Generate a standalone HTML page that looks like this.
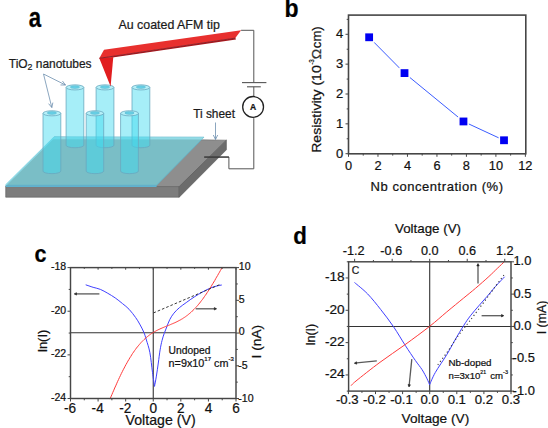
<!DOCTYPE html>
<html><head><meta charset="utf-8"><style>
html,body{margin:0;padding:0;background:#fff;}
svg{display:block;font-family:"Liberation Sans", sans-serif;}
text{stroke:#111;stroke-width:0.22px;}
</style></head><body>
<svg width="548" height="428" viewBox="0 0 548 428">
<rect width="548" height="428" fill="#fff"/>
<text x="28.8" y="26.8" font-size="22.2" font-weight="bold" fill="#000" stroke="#000" stroke-width="0.5" transform="translate(28.8,26.8) scale(1,1.26) translate(-28.8,-26.8)">a</text>
<text x="118.5" y="28.6" font-size="12.2" text-anchor="start" font-weight="normal" fill="#1e1e1e"  stroke="#1e1e1e" stroke-width="0.42" textLength="101.3" lengthAdjust="spacingAndGlyphs">Au coated AFM tip</text>
<text x="8.8" y="67.8" font-size="12.2" fill="#1e1e1e" stroke="#1e1e1e" stroke-width="0.42" textLength="82.8" lengthAdjust="spacingAndGlyphs">TiO<tspan font-size="9" dy="2.6">2</tspan><tspan dy="-2.6"> nanotubes</tspan></text>
<text x="193.2" y="117.7" font-size="12.4" text-anchor="start" font-weight="normal" fill="#1e1e1e"  stroke="#1e1e1e" stroke-width="0.42" textLength="41.8" lengthAdjust="spacingAndGlyphs">Ti sheet</text>
<polygon points="54.2,137.2 226.4,140.2 179.2,186.6 5.7,186.6" fill="#8e8e8e" stroke="#6a6a6a" stroke-width="0.6"/>
<polygon points="5.7,186.6 179.2,186.6 179.2,197.2 5.7,197.2" fill="#7d7d7d" stroke="#5e5e5e" stroke-width="0.6"/>
<polygon points="179.2,186.6 226.4,140.2 226.4,149.8 179.2,197.2" fill="#6c6c6c" stroke="#555" stroke-width="0.6"/>
<polygon points="54.2,136.9 203.9,137.2 156.6,185.2 5.7,185.2" fill="#7abec6" stroke="#5fb5cc" stroke-width="0.8"/>
<polygon points="54.4,136.9 203.9,137.2 201.6,139.5 52.2,139.2" fill="#92dbe6"/>
<polyline points="54.2,137.2 5.9,185" fill="none" stroke="#8fd9e6" stroke-width="1.4"/>
<polygon points="5.7,185.2 156.6,185.2 156.6,187 5.7,187" fill="#5fb3cf"/>
<path d="M66.1,87.4 L66.1,145.2 A8.850000000000001,2.55 0 0 0 83.8,145.2 L83.8,87.4 Z" fill="rgb(61,218,240)" fill-opacity="0.46" stroke="#6aa8bf" stroke-width="0.8"/>
<ellipse cx="74.94999999999999" cy="87.4" rx="8.850000000000001" ry="2.55" fill="#b6f0f8" stroke="#6aa8bf" stroke-width="0.8"/>
<ellipse cx="74.94999999999999" cy="87.10" rx="4.60" ry="1.43" fill="#66d0e6" stroke="#5ea9c0" stroke-width="0.4"/>
<path d="M96.1,87.4 L96.1,145.2 A8.900000000000006,2.55 0 0 0 113.9,145.2 L113.9,87.4 Z" fill="rgb(61,218,240)" fill-opacity="0.46" stroke="#6aa8bf" stroke-width="0.8"/>
<ellipse cx="105.0" cy="87.4" rx="8.900000000000006" ry="2.55" fill="#b6f0f8" stroke="#6aa8bf" stroke-width="0.8"/>
<ellipse cx="105.0" cy="87.10" rx="4.63" ry="1.43" fill="#66d0e6" stroke="#5ea9c0" stroke-width="0.4"/>
<path d="M132,87.4 L132,145.2 A8.900000000000006,2.55 0 0 0 149.8,145.2 L149.8,87.4 Z" fill="rgb(61,218,240)" fill-opacity="0.46" stroke="#6aa8bf" stroke-width="0.8"/>
<ellipse cx="140.9" cy="87.4" rx="8.900000000000006" ry="2.55" fill="#b6f0f8" stroke="#6aa8bf" stroke-width="0.8"/>
<ellipse cx="140.9" cy="87.10" rx="4.63" ry="1.43" fill="#66d0e6" stroke="#5ea9c0" stroke-width="0.4"/>
<path d="M43,113.3 L43,171.1 A8.899999999999999,2.55 0 0 0 60.8,171.1 L60.8,113.3 Z" fill="rgb(61,218,240)" fill-opacity="0.46" stroke="#6aa8bf" stroke-width="0.8"/>
<ellipse cx="51.9" cy="113.3" rx="8.899999999999999" ry="2.55" fill="#b6f0f8" stroke="#6aa8bf" stroke-width="0.8"/>
<ellipse cx="51.9" cy="113.00" rx="4.63" ry="1.43" fill="#66d0e6" stroke="#5ea9c0" stroke-width="0.4"/>
<path d="M86.2,113.3 L86.2,171.1 A8.75,2.55 0 0 0 103.7,171.1 L103.7,113.3 Z" fill="rgb(61,218,240)" fill-opacity="0.46" stroke="#6aa8bf" stroke-width="0.8"/>
<ellipse cx="94.95" cy="113.3" rx="8.75" ry="2.55" fill="#b6f0f8" stroke="#6aa8bf" stroke-width="0.8"/>
<ellipse cx="94.95" cy="113.00" rx="4.55" ry="1.43" fill="#66d0e6" stroke="#5ea9c0" stroke-width="0.4"/>
<path d="M120.6,113.3 L120.6,171.1 A8.900000000000006,2.55 0 0 0 138.4,171.1 L138.4,113.3 Z" fill="rgb(61,218,240)" fill-opacity="0.46" stroke="#6aa8bf" stroke-width="0.8"/>
<ellipse cx="129.5" cy="113.3" rx="8.900000000000006" ry="2.55" fill="#b6f0f8" stroke="#6aa8bf" stroke-width="0.8"/>
<ellipse cx="129.5" cy="113.00" rx="4.63" ry="1.43" fill="#66d0e6" stroke="#5ea9c0" stroke-width="0.4"/>
<polygon points="104,49.8 241.1,30.3 235.3,38.1 99.3,58.3" fill="#e8302e"/>
<polygon points="99.3,58.3 235.3,38.1 236,39.5 112.3,57.6" fill="#a8171c"/>
<polygon points="99.3,58.3 113.3,57 110.6,86.6" fill="#e11d1f"/>
<line x1="99.3" y1="58.3" x2="235.3" y2="38.1" stroke="#8a1c24" stroke-width="0.9"/>
<polyline points="241.1,30.3 253.8,30.3 253.8,82.6" fill="none" stroke="#555" stroke-width="1"/>
<line x1="242" y1="82.6" x2="266.4" y2="82.6" stroke="#555" stroke-width="1.1"/>
<line x1="247" y1="86.8" x2="260.8" y2="86.8" stroke="#555" stroke-width="1.1"/>
<line x1="253.8" y1="86.8" x2="253.8" y2="97" stroke="#555" stroke-width="1"/>
<circle cx="253.1" cy="106.9" r="10.4" fill="#fff" stroke="#222" stroke-width="1.3"/>
<text x="253.1" y="110.2" font-size="8.5" font-weight="bold" text-anchor="middle" fill="#111">A</text>
<polyline points="253.8,118.1 253.8,168.8 228.9,168.8 228.9,157 204.2,157" fill="none" stroke="#555" stroke-width="1"/>
<line x1="204.2" y1="157.1" x2="228.9" y2="157.1" stroke="#333" stroke-width="1.1"/>
<line x1="43.5" y1="74" x2="65.5" y2="85" stroke="#6d8fae" stroke-width="0.8"/>
<polyline points="60.49,84.96 65.5,85 62.46,81.02" fill="none" stroke="#6d8fae" stroke-width="0.8"/>
<line x1="43.5" y1="74" x2="51.8" y2="107.5" stroke="#6d8fae" stroke-width="0.8"/>
<polyline points="48.58,103.66 51.8,107.5 52.85,102.60" fill="none" stroke="#6d8fae" stroke-width="0.8"/>
<line x1="215.5" y1="122.5" x2="215.5" y2="139.5" stroke="#6d8fae" stroke-width="0.8"/>
<polyline points="213.30,135.00 215.5,139.5 217.70,135.00" fill="none" stroke="#6d8fae" stroke-width="0.8"/>
<text x="284.6" y="17.1" font-size="23" font-weight="bold" fill="#000" stroke="#000" stroke-width="0.5" transform="translate(284.6,17.1) scale(1,1.1) translate(-284.6,-17.1)">b</text>
<rect x="348.5" y="15.1" width="177.29999999999995" height="138.70000000000002" fill="none" stroke="#464646" stroke-width="1.6"/>
<line x1="345.5" y1="153.70" x2="348.5" y2="153.70" stroke="#464646" stroke-width="1"/>
<line x1="346.7" y1="138.77" x2="348.5" y2="138.77" stroke="#464646" stroke-width="1"/>
<line x1="345.5" y1="123.85" x2="348.5" y2="123.85" stroke="#464646" stroke-width="1"/>
<line x1="346.7" y1="108.92" x2="348.5" y2="108.92" stroke="#464646" stroke-width="1"/>
<line x1="345.5" y1="94.00" x2="348.5" y2="94.00" stroke="#464646" stroke-width="1"/>
<line x1="346.7" y1="79.07" x2="348.5" y2="79.07" stroke="#464646" stroke-width="1"/>
<line x1="345.5" y1="64.15" x2="348.5" y2="64.15" stroke="#464646" stroke-width="1"/>
<line x1="346.7" y1="49.22" x2="348.5" y2="49.22" stroke="#464646" stroke-width="1"/>
<line x1="345.5" y1="34.30" x2="348.5" y2="34.30" stroke="#464646" stroke-width="1"/>
<line x1="346.7" y1="19.37" x2="348.5" y2="19.37" stroke="#464646" stroke-width="1"/>
<text x="343.3" y="157.6" font-size="13" text-anchor="end" font-weight="normal" fill="#111"  >0</text>
<text x="343.3" y="127.75" font-size="13" text-anchor="end" font-weight="normal" fill="#111"  >1</text>
<text x="343.3" y="97.89999999999999" font-size="13" text-anchor="end" font-weight="normal" fill="#111"  >2</text>
<text x="343.3" y="68.04999999999998" font-size="13" text-anchor="end" font-weight="normal" fill="#111"  >3</text>
<text x="343.3" y="38.19999999999998" font-size="13" text-anchor="end" font-weight="normal" fill="#111"  >4</text>
<line x1="348.50" y1="153.8" x2="348.50" y2="156.8" stroke="#464646" stroke-width="1"/>
<text x="348.50" y="170.2" font-size="12.8" text-anchor="middle" font-weight="normal" fill="#111"  >0</text>
<line x1="363.24" y1="153.8" x2="363.24" y2="155.60000000000002" stroke="#464646" stroke-width="1"/>
<line x1="377.98" y1="153.8" x2="377.98" y2="156.8" stroke="#464646" stroke-width="1"/>
<text x="377.98" y="170.2" font-size="12.8" text-anchor="middle" font-weight="normal" fill="#111"  >2</text>
<line x1="392.72" y1="153.8" x2="392.72" y2="155.60000000000002" stroke="#464646" stroke-width="1"/>
<line x1="407.46" y1="153.8" x2="407.46" y2="156.8" stroke="#464646" stroke-width="1"/>
<text x="407.46" y="170.2" font-size="12.8" text-anchor="middle" font-weight="normal" fill="#111"  >4</text>
<line x1="422.20" y1="153.8" x2="422.20" y2="155.60000000000002" stroke="#464646" stroke-width="1"/>
<line x1="436.94" y1="153.8" x2="436.94" y2="156.8" stroke="#464646" stroke-width="1"/>
<text x="436.94" y="170.2" font-size="12.8" text-anchor="middle" font-weight="normal" fill="#111"  >6</text>
<line x1="451.68" y1="153.8" x2="451.68" y2="155.60000000000002" stroke="#464646" stroke-width="1"/>
<line x1="466.42" y1="153.8" x2="466.42" y2="156.8" stroke="#464646" stroke-width="1"/>
<text x="466.42" y="170.2" font-size="12.8" text-anchor="middle" font-weight="normal" fill="#111"  >8</text>
<line x1="481.16" y1="153.8" x2="481.16" y2="155.60000000000002" stroke="#464646" stroke-width="1"/>
<line x1="495.90" y1="153.8" x2="495.90" y2="156.8" stroke="#464646" stroke-width="1"/>
<text x="495.90" y="170.2" font-size="12.8" text-anchor="middle" font-weight="normal" fill="#111"  >10</text>
<line x1="510.64" y1="153.8" x2="510.64" y2="155.60000000000002" stroke="#464646" stroke-width="1"/>
<line x1="525.38" y1="153.8" x2="525.38" y2="156.8" stroke="#464646" stroke-width="1"/>
<text x="525.38" y="170.2" font-size="12.8" text-anchor="middle" font-weight="normal" fill="#111"  >12</text>
<polyline points="369.1,37.3 404.5,73.1 463.5,121.5 504.0,140.3" fill="none" stroke="#3b5cff" stroke-width="1"/>
<rect x="365.24" y="33.38" width="7.8" height="7.8" fill="#fff" stroke="#fff" stroke-width="3"/>
<rect x="365.24" y="33.38" width="7.8" height="7.8" fill="#0000f2"/>
<rect x="400.61" y="69.20" width="7.8" height="7.8" fill="#fff" stroke="#fff" stroke-width="3"/>
<rect x="400.61" y="69.20" width="7.8" height="7.8" fill="#0000f2"/>
<rect x="459.57" y="117.56" width="7.8" height="7.8" fill="#fff" stroke="#fff" stroke-width="3"/>
<rect x="459.57" y="117.56" width="7.8" height="7.8" fill="#0000f2"/>
<rect x="500.11" y="136.37" width="7.8" height="7.8" fill="#fff" stroke="#fff" stroke-width="3"/>
<rect x="500.11" y="136.37" width="7.8" height="7.8" fill="#0000f2"/>
<text x="370.6" y="191.2" font-size="13" fill="#111" textLength="132.4" lengthAdjust="spacing">Nb concentration (%)</text>
<text transform="translate(321.2,152.8) rotate(-90)" font-size="13.2" fill="#111"><tspan x="0" textLength="87.5" lengthAdjust="spacingAndGlyphs">Resistivity (10</tspan><tspan x="88" dy="-7.6" font-size="8" textLength="5.6" lengthAdjust="spacingAndGlyphs">-3</tspan><tspan x="93.6" dy="7.6" font-size="12.6" fill="#333" textLength="10.4" lengthAdjust="spacingAndGlyphs">Ω</tspan><tspan x="104.6">cm)</tspan></text>
<text x="34.6" y="261.7" font-size="21.6" font-weight="bold" fill="#000" stroke="#000" stroke-width="0.5" transform="translate(34.6,261.7) scale(1,1.1) translate(-34.6,-261.7)">c</text>
<line x1="70.5" y1="332.70" x2="236" y2="332.70" stroke="#333" stroke-width="1.1"/>
<line x1="153.25" y1="267.6" x2="153.25" y2="398.5" stroke="#333" stroke-width="1.1"/>
<path d="M85.70,284.80 C86.93,285.22 90.65,286.53 93.10,287.30 C95.55,288.07 97.95,288.40 100.40,289.40 C102.85,290.40 105.33,291.88 107.80,293.30 C110.27,294.72 112.75,296.18 115.20,297.90 C117.65,299.62 120.18,301.70 122.50,303.60 C124.82,305.50 126.92,306.98 129.10,309.30 C131.28,311.62 133.83,315.03 135.60,317.50 C137.37,319.97 138.33,321.65 139.70,324.10 C141.07,326.55 142.68,329.55 143.80,332.20 C144.92,334.85 145.38,336.58 146.40,340.00 C147.42,343.42 148.88,347.28 149.90,352.70 C150.92,358.12 151.73,366.88 152.50,372.50 C153.27,378.12 154.17,384.08 154.50,386.40" fill="none" stroke="#4040ff" stroke-width="1"/>
<path d="M154.50,386.40 C154.82,384.68 155.77,380.00 156.40,376.10 C157.03,372.20 157.68,367.37 158.30,363.00 C158.92,358.63 159.48,353.63 160.10,349.90 C160.72,346.17 161.32,343.33 162.00,340.60 C162.68,337.87 163.40,335.80 164.20,333.50 C165.00,331.20 165.87,329.13 166.80,326.80 C167.73,324.47 168.62,321.77 169.80,319.50 C170.98,317.23 172.27,315.20 173.90,313.20 C175.53,311.20 177.55,309.27 179.60,307.50 C181.65,305.73 183.75,304.37 186.20,302.60 C188.65,300.83 191.58,298.67 194.30,296.90 C197.02,295.13 199.77,293.50 202.50,292.00 C205.23,290.50 208.25,288.92 210.70,287.90 C213.15,286.88 215.35,286.38 217.20,285.90 C219.05,285.42 221.03,285.15 221.80,285.00" fill="none" stroke="#4040ff" stroke-width="1"/>
<polyline points="110.0,399.1 110.9,396.9 111.9,394.6 112.8,392.4 113.8,390.2 114.7,388.0 115.7,385.9 116.6,383.8 117.5,381.7 118.5,379.6 119.4,377.6 120.4,375.6 121.3,373.6 122.3,371.7 123.2,369.8 124.2,368.0 125.1,366.2 126.0,364.5 127.0,362.8 127.9,361.1 128.9,359.5 129.8,357.9 130.8,356.4 131.7,354.9 132.6,353.4 133.6,352.1 134.5,350.7 135.5,349.4 136.4,348.1 137.4,346.9 138.3,345.8 139.3,344.6 140.2,343.6 141.1,342.5 142.1,341.5 143.0,340.6 144.0,339.6 144.9,338.8 145.9,337.9 146.8,337.1 147.7,336.4 148.7,335.6 149.6,334.9 150.6,334.2 151.5,333.6 152.5,333.0 153.4,332.4 154.4,331.8 155.3,331.3 156.2,330.8 157.2,330.3 158.1,329.8 159.1,329.4 160.0,328.9 161.0,328.5 161.9,328.1 162.8,327.7 163.8,327.3 164.7,326.9 165.7,326.5 166.6,326.1 167.6,325.8 168.5,325.4 169.5,325.0 170.4,324.6 171.3,324.2 172.3,323.8 173.2,323.4 174.2,323.0 175.1,322.6 176.1,322.1 177.0,321.7 177.9,321.2 178.9,320.7 179.8,320.2 180.8,319.7 181.7,319.1 182.7,318.6 183.6,317.9 184.6,317.3 185.5,316.7 186.4,316.0 187.4,315.3 188.3,314.5 189.3,313.8 190.2,312.9 191.2,312.1 192.1,311.2 193.0,310.3 194.0,309.4 194.9,308.4 195.9,307.4 196.8,306.4 197.8,305.3 198.7,304.2 199.7,303.0 200.6,301.8 201.5,300.6 202.5,299.4 203.4,298.1 204.4,296.7 205.3,295.4 206.3,294.0 207.2,292.6 208.1,291.2 209.1,289.7 210.0,288.2 211.0,286.7 211.9,285.1 212.9,283.5 213.8,282.0 214.8,280.4 215.7,278.7 216.6,277.1 217.6,275.5 218.5,273.8 219.5,272.2 220.4,270.5 221.4,268.9 222.3,267.2" fill="none" stroke="#ff3a3a" stroke-width="1"/>
<line x1="153.5" y1="312.9" x2="220.5" y2="284.3" stroke="#222" stroke-width="0.9" stroke-dasharray="2.6,2"/>
<line x1="99.4" y1="293.9" x2="76.50" y2="293.90" stroke="#5a5a5a" stroke-width="1.3"/>
<polygon points="76.50,292.70 74.2,293.9 76.50,295.10" fill="#1a1a1a" stroke="#1a1a1a" stroke-width="0.6" stroke-linejoin="round"/>
<line x1="195.7" y1="308.8" x2="214.30" y2="308.80" stroke="#5a5a5a" stroke-width="1.3"/>
<polygon points="214.30,310.00 216.6,308.8 214.30,307.60" fill="#1a1a1a" stroke="#1a1a1a" stroke-width="0.6" stroke-linejoin="round"/>
<rect x="70.5" y="267.6" width="165.5" height="130.89999999999998" fill="none" stroke="#464646" stroke-width="1.45"/>
<line x1="70.50" y1="398.5" x2="70.50" y2="401.5" stroke="#464646" stroke-width="1"/>
<line x1="70.50" y1="267.6" x2="70.50" y2="269.70000000000005" stroke="#464646" stroke-width="1"/>
<text x="70.10" y="413.3" font-size="14.2" text-anchor="middle" font-weight="normal" fill="#111" transform="matrix(0.96,0,0,1,2.804,0)" >-6</text>
<line x1="84.29" y1="398.5" x2="84.29" y2="400.3" stroke="#464646" stroke-width="1"/>
<line x1="84.29" y1="267.6" x2="84.29" y2="268.86" stroke="#464646" stroke-width="1"/>
<line x1="98.08" y1="398.5" x2="98.08" y2="401.5" stroke="#464646" stroke-width="1"/>
<line x1="98.08" y1="267.6" x2="98.08" y2="269.70000000000005" stroke="#464646" stroke-width="1"/>
<text x="97.68" y="413.3" font-size="14.2" text-anchor="middle" font-weight="normal" fill="#111" transform="matrix(0.96,0,0,1,3.907,0)" >-4</text>
<line x1="111.88" y1="398.5" x2="111.88" y2="400.3" stroke="#464646" stroke-width="1"/>
<line x1="111.88" y1="267.6" x2="111.88" y2="268.86" stroke="#464646" stroke-width="1"/>
<line x1="125.67" y1="398.5" x2="125.67" y2="401.5" stroke="#464646" stroke-width="1"/>
<line x1="125.67" y1="267.6" x2="125.67" y2="269.70000000000005" stroke="#464646" stroke-width="1"/>
<text x="125.27" y="413.3" font-size="14.2" text-anchor="middle" font-weight="normal" fill="#111" transform="matrix(0.96,0,0,1,5.011,0)" >-2</text>
<line x1="139.46" y1="398.5" x2="139.46" y2="400.3" stroke="#464646" stroke-width="1"/>
<line x1="139.46" y1="267.6" x2="139.46" y2="268.86" stroke="#464646" stroke-width="1"/>
<line x1="153.25" y1="398.5" x2="153.25" y2="401.5" stroke="#464646" stroke-width="1"/>
<line x1="153.25" y1="267.6" x2="153.25" y2="269.70000000000005" stroke="#464646" stroke-width="1"/>
<text x="153.25" y="413.3" font-size="14.2" text-anchor="middle" font-weight="normal" fill="#111" transform="matrix(0.96,0,0,1,6.130,0)" >0</text>
<line x1="167.04" y1="398.5" x2="167.04" y2="400.3" stroke="#464646" stroke-width="1"/>
<line x1="167.04" y1="267.6" x2="167.04" y2="268.86" stroke="#464646" stroke-width="1"/>
<line x1="180.83" y1="398.5" x2="180.83" y2="401.5" stroke="#464646" stroke-width="1"/>
<line x1="180.83" y1="267.6" x2="180.83" y2="269.70000000000005" stroke="#464646" stroke-width="1"/>
<text x="180.83" y="413.3" font-size="14.2" text-anchor="middle" font-weight="normal" fill="#111" transform="matrix(0.96,0,0,1,7.233,0)" >2</text>
<line x1="194.62" y1="398.5" x2="194.62" y2="400.3" stroke="#464646" stroke-width="1"/>
<line x1="194.62" y1="267.6" x2="194.62" y2="268.86" stroke="#464646" stroke-width="1"/>
<line x1="208.42" y1="398.5" x2="208.42" y2="401.5" stroke="#464646" stroke-width="1"/>
<line x1="208.42" y1="267.6" x2="208.42" y2="269.70000000000005" stroke="#464646" stroke-width="1"/>
<text x="208.42" y="413.3" font-size="14.2" text-anchor="middle" font-weight="normal" fill="#111" transform="matrix(0.96,0,0,1,8.337,0)" >4</text>
<line x1="222.21" y1="398.5" x2="222.21" y2="400.3" stroke="#464646" stroke-width="1"/>
<line x1="222.21" y1="267.6" x2="222.21" y2="268.86" stroke="#464646" stroke-width="1"/>
<line x1="236.00" y1="398.5" x2="236.00" y2="401.5" stroke="#464646" stroke-width="1"/>
<line x1="236.00" y1="267.6" x2="236.00" y2="269.70000000000005" stroke="#464646" stroke-width="1"/>
<text x="236.00" y="413.3" font-size="14.2" text-anchor="middle" font-weight="normal" fill="#111" transform="matrix(0.96,0,0,1,9.440,0)" >6</text>
<line x1="67.5" y1="267.60" x2="70.5" y2="267.60" stroke="#464646" stroke-width="1"/>
<text x="66.2" y="269.90" font-size="10.5" text-anchor="end" font-weight="normal" fill="#111"  >-18</text>
<line x1="68.7" y1="289.42" x2="70.5" y2="289.42" stroke="#464646" stroke-width="1"/>
<line x1="67.5" y1="311.23" x2="70.5" y2="311.23" stroke="#464646" stroke-width="1"/>
<text x="66.2" y="313.53" font-size="10.5" text-anchor="end" font-weight="normal" fill="#111"  >-20</text>
<line x1="68.7" y1="333.05" x2="70.5" y2="333.05" stroke="#464646" stroke-width="1"/>
<line x1="67.5" y1="354.87" x2="70.5" y2="354.87" stroke="#464646" stroke-width="1"/>
<text x="66.2" y="357.17" font-size="10.5" text-anchor="end" font-weight="normal" fill="#111"  >-22</text>
<line x1="68.7" y1="376.68" x2="70.5" y2="376.68" stroke="#464646" stroke-width="1"/>
<line x1="67.5" y1="398.50" x2="70.5" y2="398.50" stroke="#464646" stroke-width="1"/>
<text x="66.2" y="400.80" font-size="10.5" text-anchor="end" font-weight="normal" fill="#111"  >-24</text>
<line x1="236" y1="267.60" x2="239" y2="267.60" stroke="#464646" stroke-width="1"/>
<text x="238.8" y="269.90" font-size="10.6" text-anchor="start" font-weight="normal" fill="#111"  >10</text>
<line x1="236" y1="283.96" x2="237.8" y2="283.96" stroke="#464646" stroke-width="1"/>
<line x1="236" y1="300.33" x2="239" y2="300.33" stroke="#464646" stroke-width="1"/>
<text x="238.8" y="302.63" font-size="10.6" text-anchor="start" font-weight="normal" fill="#111"  >5</text>
<line x1="236" y1="316.69" x2="237.8" y2="316.69" stroke="#464646" stroke-width="1"/>
<line x1="236" y1="333.05" x2="239" y2="333.05" stroke="#464646" stroke-width="1"/>
<text x="238.8" y="335.35" font-size="10.6" text-anchor="start" font-weight="normal" fill="#111"  >0</text>
<line x1="236" y1="349.41" x2="237.8" y2="349.41" stroke="#464646" stroke-width="1"/>
<line x1="236" y1="365.77" x2="239" y2="365.77" stroke="#464646" stroke-width="1"/>
<text x="238.3" y="368.77" font-size="10.6" text-anchor="start" font-weight="normal" fill="#111"  >-5</text>
<line x1="236" y1="382.14" x2="237.8" y2="382.14" stroke="#464646" stroke-width="1"/>
<line x1="236" y1="398.50" x2="239" y2="398.50" stroke="#464646" stroke-width="1"/>
<text x="238.3" y="401.50" font-size="10.6" text-anchor="start" font-weight="normal" fill="#111"  >-10</text>
<text x="125.6" y="425.2" font-size="14.3" fill="#111" textLength="70" lengthAdjust="spacingAndGlyphs">Voltage (V)</text>
<text transform="translate(46.8,352) rotate(-90)" font-size="13" fill="#111">ln(I)</text>
<text transform="translate(261.3,358.4) rotate(-90)" font-size="13.7" fill="#111">I (nA)</text>
<text x="168.6" y="353.6" font-size="10.3" text-anchor="start" font-weight="normal" fill="#111"  >Undoped</text>
<text x="168.6" y="366.8" font-size="10.8" fill="#111">n=9x10<tspan font-size="6" dy="-6">17</tspan><tspan dy="6"> cm</tspan><tspan font-size="6" dy="-6">-3</tspan></text>
<text x="293.2" y="243.6" font-size="22.3" font-weight="bold" fill="#000" stroke="#000" stroke-width="0.5" transform="translate(293.2,243.6) scale(1,1.07) translate(-293.2,-243.6)">d</text>
<line x1="348.6" y1="326.45" x2="511" y2="326.45" stroke="#333" stroke-width="1.1"/>
<line x1="429.70" y1="261.8" x2="429.70" y2="391.1" stroke="#333" stroke-width="1.1"/>
<path d="M354.50,282.50 C356.68,284.40 363.23,289.40 367.60,293.90 C371.97,298.40 376.38,304.03 380.70,309.50 C385.02,314.97 389.42,320.73 393.50,326.70 C397.58,332.67 401.57,339.68 405.20,345.30 C408.83,350.92 412.48,356.33 415.30,360.40 C418.12,364.47 420.13,366.62 422.10,369.70 C424.07,372.78 425.85,376.38 427.10,378.90 C428.35,381.42 429.18,383.82 429.60,384.80" fill="none" stroke="#4040ff" stroke-width="1"/>
<path d="M429.60,384.80 C430.55,382.75 432.43,377.53 435.30,372.50 C438.17,367.47 443.52,360.02 446.80,354.60 C450.08,349.18 452.18,344.85 455.00,340.00 C457.82,335.15 461.13,329.53 463.70,325.50 C466.27,321.47 467.88,319.08 470.40,315.80 C472.92,312.52 476.00,309.05 478.80,305.80 C481.60,302.55 484.38,299.57 487.20,296.30 C490.02,293.03 492.80,289.45 495.70,286.20 C498.60,282.95 503.12,278.37 504.60,276.80" fill="none" stroke="#4040ff" stroke-width="1"/>
<path d="M351.00,385.80 C351.83,385.00 351.17,384.92 356.00,381.00 C360.83,377.08 371.83,368.35 380.00,362.30 C388.17,356.25 396.72,350.70 405.00,344.70 C413.28,338.70 422.73,331.77 429.70,326.30 C436.67,320.83 441.13,316.62 446.80,311.90 C452.47,307.18 458.92,301.93 463.70,298.00 C468.48,294.07 471.30,291.88 475.50,288.30 C479.70,284.72 485.27,279.82 488.90,276.50 C492.53,273.18 494.73,270.85 497.30,268.40 C499.87,265.95 503.13,262.90 504.30,261.80" fill="none" stroke="#ff3a3a" stroke-width="1"/>
<path d="M437.80,364.80 C439.50,362.50 444.63,355.80 448.00,351.00 C451.37,346.20 454.77,340.50 458.00,336.00 C461.23,331.50 464.72,327.47 467.40,324.00 C470.08,320.53 471.35,318.85 474.10,315.20 C476.85,311.55 480.58,306.58 483.90,302.10 C487.22,297.62 490.63,292.85 494.00,288.30 C497.37,283.75 502.42,277.05 504.10,274.80" fill="none" stroke="#333" stroke-width="1.1" stroke-dasharray="1.2,2.6"/>
<line x1="478" y1="283.5" x2="478.00" y2="265.90" stroke="#5a5a5a" stroke-width="1.3"/>
<polygon points="479.20,265.90 478,263.6 476.80,265.90" fill="#1a1a1a" stroke="#1a1a1a" stroke-width="0.6" stroke-linejoin="round"/>
<line x1="481.6" y1="315.7" x2="501.50" y2="315.70" stroke="#5a5a5a" stroke-width="1.3"/>
<polygon points="501.50,316.90 503.8,315.7 501.50,314.50" fill="#1a1a1a" stroke="#1a1a1a" stroke-width="0.6" stroke-linejoin="round"/>
<line x1="376.8" y1="360.9" x2="356.59" y2="362.97" stroke="#5a5a5a" stroke-width="1.3"/>
<polygon points="356.47,361.77 354.3,363.2 356.71,364.16" fill="#1a1a1a" stroke="#1a1a1a" stroke-width="0.6" stroke-linejoin="round"/>
<line x1="411.8" y1="359.1" x2="409.23" y2="384.71" stroke="#5a5a5a" stroke-width="1.3"/>
<polygon points="408.04,384.59 409,387 410.42,384.83" fill="#1a1a1a" stroke="#1a1a1a" stroke-width="0.6" stroke-linejoin="round"/>
<rect x="348.6" y="261.8" width="162.39999999999998" height="129.3" fill="none" stroke="#464646" stroke-width="1.45"/>
<line x1="348.40" y1="391.1" x2="348.40" y2="394.1" stroke="#464646" stroke-width="1"/>
<text x="347.30" y="404.4" font-size="13.2" text-anchor="middle" font-weight="normal" fill="#111"  >-0.3</text>
<line x1="361.95" y1="391.1" x2="361.95" y2="392.90000000000003" stroke="#464646" stroke-width="1"/>
<line x1="375.50" y1="391.1" x2="375.50" y2="394.1" stroke="#464646" stroke-width="1"/>
<text x="374.40" y="404.4" font-size="13.2" text-anchor="middle" font-weight="normal" fill="#111"  >-0.2</text>
<line x1="389.05" y1="391.1" x2="389.05" y2="392.90000000000003" stroke="#464646" stroke-width="1"/>
<line x1="402.60" y1="391.1" x2="402.60" y2="394.1" stroke="#464646" stroke-width="1"/>
<text x="401.50" y="404.4" font-size="13.2" text-anchor="middle" font-weight="normal" fill="#111"  >-0.1</text>
<line x1="416.15" y1="391.1" x2="416.15" y2="392.90000000000003" stroke="#464646" stroke-width="1"/>
<line x1="429.70" y1="391.1" x2="429.70" y2="394.1" stroke="#464646" stroke-width="1"/>
<text x="429.70" y="404.4" font-size="13.2" text-anchor="middle" font-weight="normal" fill="#111"  >0.0</text>
<line x1="443.25" y1="391.1" x2="443.25" y2="392.90000000000003" stroke="#464646" stroke-width="1"/>
<line x1="456.80" y1="391.1" x2="456.80" y2="394.1" stroke="#464646" stroke-width="1"/>
<text x="456.80" y="404.4" font-size="13.2" text-anchor="middle" font-weight="normal" fill="#111"  >0.1</text>
<line x1="470.35" y1="391.1" x2="470.35" y2="392.90000000000003" stroke="#464646" stroke-width="1"/>
<line x1="483.90" y1="391.1" x2="483.90" y2="394.1" stroke="#464646" stroke-width="1"/>
<text x="483.90" y="404.4" font-size="13.2" text-anchor="middle" font-weight="normal" fill="#111"  >0.2</text>
<line x1="497.45" y1="391.1" x2="497.45" y2="392.90000000000003" stroke="#464646" stroke-width="1"/>
<line x1="511.00" y1="391.1" x2="511.00" y2="394.1" stroke="#464646" stroke-width="1"/>
<text x="511.00" y="404.4" font-size="13.2" text-anchor="middle" font-weight="normal" fill="#111"  >0.3</text>
<line x1="354.64" y1="261.8" x2="354.64" y2="258.8" stroke="#464646" stroke-width="1"/>
<text x="353.74" y="254.8" font-size="12.7" text-anchor="middle" font-weight="normal" fill="#111"  >-1.2</text>
<line x1="373.40" y1="261.8" x2="373.40" y2="260.0" stroke="#464646" stroke-width="1"/>
<line x1="392.17" y1="261.8" x2="392.17" y2="258.8" stroke="#464646" stroke-width="1"/>
<text x="391.27" y="254.8" font-size="12.7" text-anchor="middle" font-weight="normal" fill="#111"  >-0.6</text>
<line x1="410.94" y1="261.8" x2="410.94" y2="260.0" stroke="#464646" stroke-width="1"/>
<line x1="429.70" y1="261.8" x2="429.70" y2="258.8" stroke="#464646" stroke-width="1"/>
<text x="429.70" y="254.8" font-size="12.7" text-anchor="middle" font-weight="normal" fill="#111"  >0.0</text>
<line x1="448.46" y1="261.8" x2="448.46" y2="260.0" stroke="#464646" stroke-width="1"/>
<line x1="467.23" y1="261.8" x2="467.23" y2="258.8" stroke="#464646" stroke-width="1"/>
<text x="467.23" y="254.8" font-size="12.7" text-anchor="middle" font-weight="normal" fill="#111"  >0.6</text>
<line x1="486.00" y1="261.8" x2="486.00" y2="260.0" stroke="#464646" stroke-width="1"/>
<line x1="504.76" y1="261.8" x2="504.76" y2="258.8" stroke="#464646" stroke-width="1"/>
<text x="504.76" y="254.8" font-size="12.7" text-anchor="middle" font-weight="normal" fill="#111"  >1.2</text>
<line x1="346.8" y1="261.80" x2="348.6" y2="261.80" stroke="#464646" stroke-width="1"/>
<line x1="345.6" y1="277.96" x2="348.6" y2="277.96" stroke="#464646" stroke-width="1"/>
<text x="344.6" y="281.36" font-size="13.6" text-anchor="end" font-weight="normal" fill="#111"  >-18</text>
<line x1="346.8" y1="294.12" x2="348.6" y2="294.12" stroke="#464646" stroke-width="1"/>
<line x1="345.6" y1="310.29" x2="348.6" y2="310.29" stroke="#464646" stroke-width="1"/>
<text x="344.6" y="313.69" font-size="13.6" text-anchor="end" font-weight="normal" fill="#111"  >-20</text>
<line x1="346.8" y1="326.45" x2="348.6" y2="326.45" stroke="#464646" stroke-width="1"/>
<line x1="345.6" y1="342.61" x2="348.6" y2="342.61" stroke="#464646" stroke-width="1"/>
<text x="344.6" y="346.01" font-size="13.6" text-anchor="end" font-weight="normal" fill="#111"  >-22</text>
<line x1="346.8" y1="358.78" x2="348.6" y2="358.78" stroke="#464646" stroke-width="1"/>
<line x1="345.6" y1="374.94" x2="348.6" y2="374.94" stroke="#464646" stroke-width="1"/>
<text x="344.6" y="378.34" font-size="13.6" text-anchor="end" font-weight="normal" fill="#111"  >-24</text>
<line x1="346.8" y1="391.10" x2="348.6" y2="391.10" stroke="#464646" stroke-width="1"/>
<line x1="511" y1="261.80" x2="514" y2="261.80" stroke="#464646" stroke-width="1"/>
<text x="513.4" y="265.30" font-size="12.9" text-anchor="start" font-weight="normal" fill="#111"  >1.0</text>
<line x1="511" y1="277.96" x2="512.8" y2="277.96" stroke="#464646" stroke-width="1"/>
<line x1="511" y1="294.12" x2="514" y2="294.12" stroke="#464646" stroke-width="1"/>
<text x="513.4" y="297.62" font-size="12.9" text-anchor="start" font-weight="normal" fill="#111"  >0.5</text>
<line x1="511" y1="310.29" x2="512.8" y2="310.29" stroke="#464646" stroke-width="1"/>
<line x1="511" y1="326.45" x2="514" y2="326.45" stroke="#464646" stroke-width="1"/>
<text x="513.4" y="329.95" font-size="12.9" text-anchor="start" font-weight="normal" fill="#111"  >0.0</text>
<line x1="511" y1="342.61" x2="512.8" y2="342.61" stroke="#464646" stroke-width="1"/>
<line x1="511" y1="358.78" x2="514" y2="358.78" stroke="#464646" stroke-width="1"/>
<text x="512.6" y="362.28" font-size="12.9" text-anchor="start" font-weight="normal" fill="#111"  >-0.5</text>
<line x1="511" y1="374.94" x2="512.8" y2="374.94" stroke="#464646" stroke-width="1"/>
<line x1="511" y1="391.10" x2="514" y2="391.10" stroke="#464646" stroke-width="1"/>
<text x="512.6" y="394.60" font-size="12.9" text-anchor="start" font-weight="normal" fill="#111"  >-1.0</text>
<text x="401.6" y="423.1" font-size="13.6" fill="#111" textLength="67.6" lengthAdjust="spacingAndGlyphs">Voltage (V)</text>
<text x="395" y="233.3" font-size="13.3" fill="#111" textLength="66" lengthAdjust="spacingAndGlyphs">Voltage (V)</text>
<text transform="translate(315,345.3) rotate(-90)" font-size="12.5" fill="#111">ln(I)</text>
<text transform="translate(545.6,334.3) rotate(-90)" font-size="12.4" fill="#111">I (mA)</text>
<text x="351.8" y="273.9" font-size="10.4" text-anchor="start" font-weight="normal" fill="#222"  >C</text>
<text x="448.5" y="365.5" font-size="9.8" text-anchor="start" font-weight="normal" fill="#111"  >Nb-doped</text>
<text x="448.6" y="378.8" font-size="9.6" fill="#111">n=3x10<tspan font-size="5.2" dy="-5">21</tspan><tspan dy="5" dx="1.5"> cm</tspan><tspan font-size="5.5" dy="-5">-3</tspan></text>
</svg></body></html>
